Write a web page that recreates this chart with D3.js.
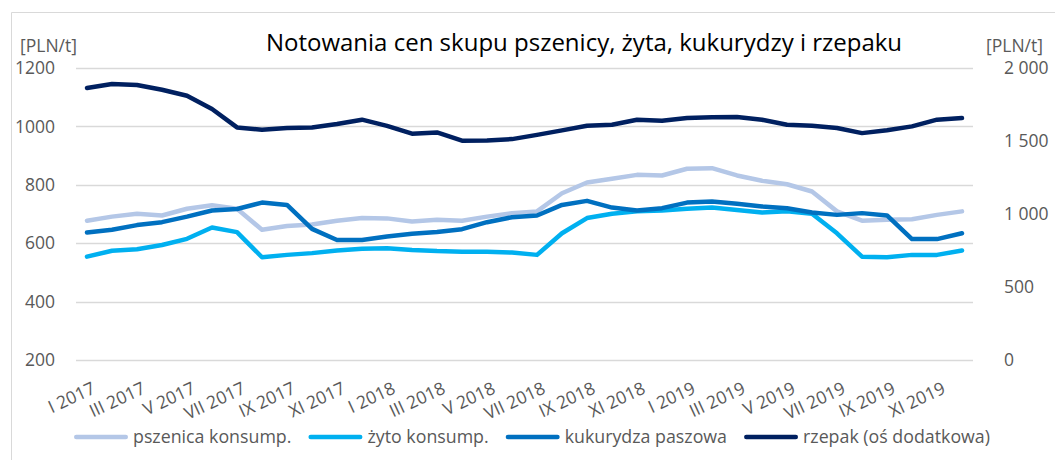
<!DOCTYPE html>
<html>
<head>
<meta charset="utf-8">
<script src="https://cdn.jsdelivr.net/npm/d3@7"></script>
<style>
  body { margin: 0; background: #fff; }
  svg { display: block; font-family: "Open Sans", sans-serif; }
</style>
</head>
<body>
<svg id="chart" width="1055" height="460"></svg>
<script>
// months Jan 2017 - Dec 2019
var months = [
  "I 2017", "II 2017", "III 2017", "IV 2017", "V 2017", "VI 2017",
  "VII 2017", "VIII 2017", "IX 2017", "X 2017", "XI 2017", "XII 2017",
  "I 2018", "II 2018", "III 2018", "IV 2018", "V 2018", "VI 2018",
  "VII 2018", "VIII 2018", "IX 2018", "X 2018", "XI 2018", "XII 2018",
  "I 2019", "II 2019", "III 2019", "IV 2019", "V 2019", "VI 2019",
  "VII 2019", "VIII 2019", "IX 2019", "X 2019", "XI 2019", "XII 2019"
];

var pszenica = [677, 691, 701, 695, 718, 730, 718, 646, 659, 664, 677, 686,
                685, 674, 680, 677, 691, 703, 709, 771, 808, 821, 834, 832,
                855, 857, 832, 814, 802, 777, 709, 677, 680, 682, 697, 709];

var zyto = [554, 574, 579, 594, 615, 654, 638, 552, 560, 566, 575, 581,
            583, 577, 573, 571, 571, 568, 560, 634, 686, 701, 709, 712,
            718, 722, 714, 705, 709, 701, 634, 554, 552, 560, 560, 575];

var kukurydza = [637, 646, 662, 672, 691, 712, 717, 739, 731, 649, 611, 611,
                 623, 632, 638, 648, 672, 689, 695, 731, 745, 722, 712, 720,
                 739, 743, 735, 726, 720, 705, 697, 703, 695, 614, 614, 634];

// right axis
var rzepak = [1863, 1890, 1883, 1851, 1810, 1719, 1593, 1577, 1589, 1593, 1616, 1646,
              1604, 1550, 1559, 1502, 1504, 1513, 1542, 1573, 1604, 1611, 1646, 1639,
              1657, 1662, 1664, 1646, 1611, 1604, 1589, 1554, 1573, 1600, 1646, 1657];

var leftTicks = [200, 400, 600, 800, 1000, 1200];
var rightTicks = [0, 500, 1000, 1500, 2000];

var seriesNames = ["pszenica konsump.", "żyto konsump.", "kukurydza paszowa", "rzepak (oś dodatkowa)"];
var seriesColors = ["#B4C7E7", "#00B0F0", "#0070C0", "#002060"];

var title = "Notowania cen skupu pszenicy, żyta, kukurydzy i rzepaku";

var svg = d3.select("#chart");
var textColor = "#595959";

// frame
svg.append("path")
  .attr("d", "M11.5,460 V12.5 H1055")
  .attr("fill", "none")
  .attr("stroke", "#D9D9D9")
  .attr("stroke-width", 1);

var x = d3.scalePoint().domain(months).range([87, 962]);
var yL = d3.scaleLinear().domain([200, 1200]).range([360, 68]);
var yR = d3.scaleLinear().domain([0, 2000]).range([360, 68]);

// gridlines
svg.append("g").selectAll("line")
  .data(leftTicks)
  .enter().append("line")
  .attr("x1", 76).attr("x2", 973)
  .attr("y1", d => Math.round(yL(d)) + 0.5)
  .attr("y2", d => Math.round(yL(d)) + 0.5)
  .attr("stroke", "#D9D9D9")
  .attr("stroke-width", 1.3);

// left axis labels
svg.append("g").selectAll("text")
  .data(leftTicks)
  .enter().append("text")
  .attr("x", 55)
  .attr("y", d => yL(d))
  .attr("dy", "0.35em")
  .attr("text-anchor", "end")
  .attr("font-size", 17.5)
  .attr("fill", textColor)
  .text(d => d);

// right axis labels
var fmt = d => d3.format(",")(d).replace(/,/g, " ");
svg.append("g").selectAll("text")
  .data(rightTicks)
  .enter().append("text")
  .attr("x", 1004)
  .attr("y", d => yR(d))
  .attr("dy", "0.35em")
  .attr("text-anchor", "start")
  .attr("font-size", 17.5)
  .attr("fill", textColor)
  .text(fmt);

// units
svg.append("text").attr("x", 20).attr("y", 52)
  .attr("font-size", 17.5).attr("fill", textColor).text("[PLN/t]");
svg.append("text").attr("x", 986).attr("y", 52)
  .attr("font-size", 17.5).attr("fill", textColor).text("[PLN/t]");

// title
svg.append("text")
  .attr("x", 584).attr("y", 51)
  .attr("text-anchor", "middle")
  .attr("font-size", 24)
  .attr("fill", "#000")
  .text(title);

// x labels (every second month)
svg.append("g").selectAll("text")
  .data(months.filter((m, i) => i % 2 == 0))
  .enter().append("text")
  .attr("transform", d => "translate(" + (x(d) + 7) + ",387) rotate(-25)")
  .attr("text-anchor", "end")
  .attr("dy", "0.35em")
  .attr("font-size", 17.5)
  .attr("fill", textColor)
  .text(d => d);

// lines
var lineL = d3.line().x((d, i) => x(months[i])).y(d => yL(d));
var lineR = d3.line().x((d, i) => x(months[i])).y(d => yR(d));

var seriesData = [
  {name: seriesNames[0], values: pszenica, axis: "L"},
  {name: seriesNames[1], values: zyto, axis: "L"},
  {name: seriesNames[2], values: kukurydza, axis: "L"},
  {name: seriesNames[3], values: rzepak, axis: "R"}
];

svg.append("g").selectAll("path")
  .data(seriesData)
  .enter().append("path")
  .attr("d", d => d.axis == "L" ? lineL(d.values) : lineR(d.values))
  .attr("fill", "none")
  .attr("stroke", (d, i) => seriesColors[i])
  .attr("stroke-width", 4.5)
  .attr("stroke-linejoin", "round")
  .attr("stroke-linecap", "round");

// legend: spread between x=74 and x=990
var legend = svg.append("g");
var items = seriesNames.map(function (name, i) {
  var item = legend.append("g");
  item.append("line")
    .attr("x1", 2.25).attr("x2", 51.75)
    .attr("y1", 437).attr("y2", 437)
    .attr("stroke", seriesColors[i])
    .attr("stroke-width", 4.5)
    .attr("stroke-linecap", "round");
  var t = item.append("text")
    .attr("x", 59).attr("y", 437)
    .attr("dy", "0.35em")
    .attr("font-size", 17.8)
    .attr("fill", textColor)
    .text(name);
  return {g: item, w: 59 + t.node().getComputedTextLength()};
});
var totalW = d3.sum(items, d => d.w);
var gap = (916 - totalW) / (items.length - 1);
var lx = 74;
items.forEach(function (it) {
  it.g.attr("transform", "translate(" + lx + ",0)");
  lx += it.w + gap;
});
</script>
</body>
</html>
